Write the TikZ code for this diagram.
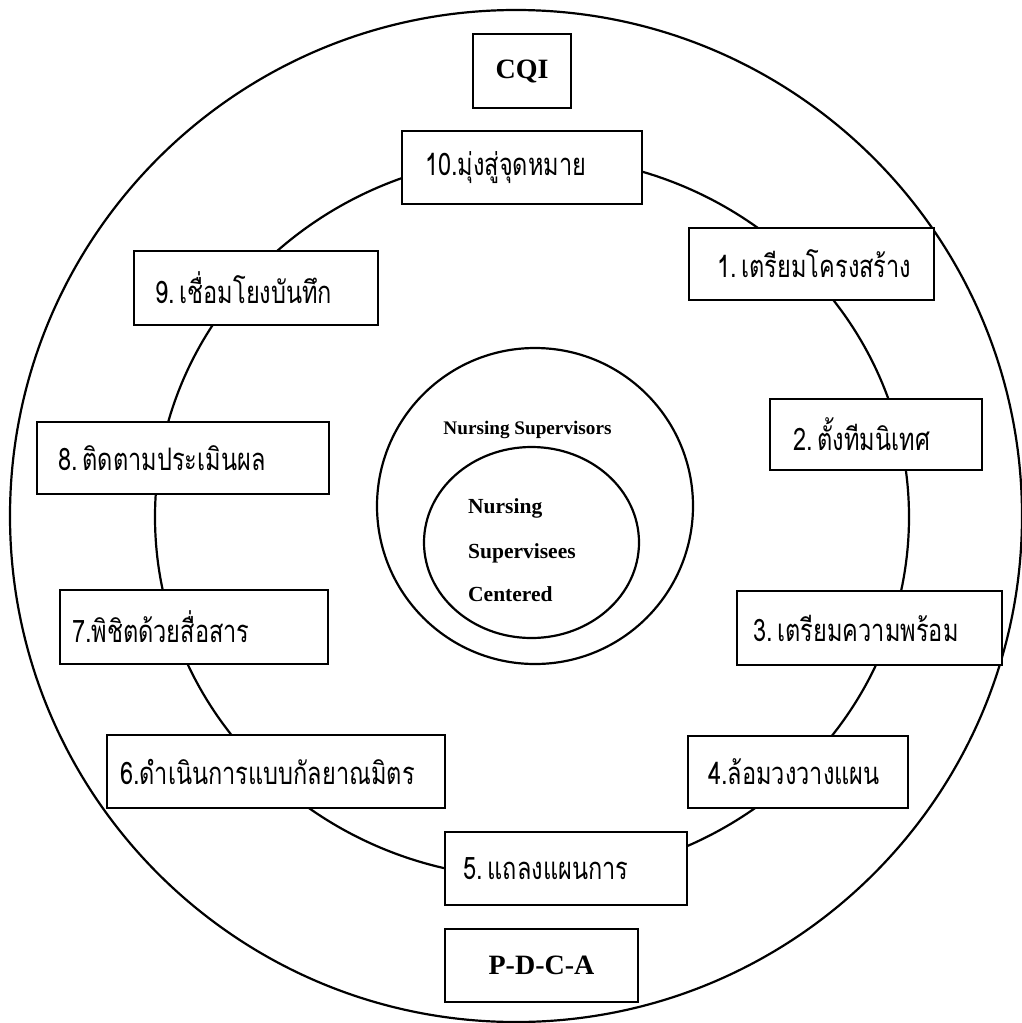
\documentclass[tikz,border=0pt]{standalone}
\usepackage{fontspec}
\usetikzlibrary{shapes.geometric}
\setmainfont{Liberation Serif}
\newfontfamily\thai[Script=Thai,FakeStretch=0.76]{Loma}
\newcommand\gap{\hspace{5pt}}
\begin{document}
\begin{tikzpicture}[x=1pt,y=-1pt,
  ring/.style={draw,line width=2.2pt},
  box/.style={draw,line width=2.4pt,fill=white,inner ysep=0pt,minimum height=73pt,anchor=center},
  tbox/.style={box,font=\thai\fontsize{31}{34}\selectfont},
  lbox/.style={box,font=\bfseries\fontsize{28}{32}\selectfont,inner xsep=0pt},
  ctext/.style={font=\bfseries\fontsize{21.5}{24}\selectfont,inner sep=0pt}]
\useasboundingbox (0,0) rectangle (1021,1023);
% circles
\node[ring,circle,minimum size=1012pt,inner sep=0pt] (outer) at (516,516) {};
\draw[ring] (532,517) ellipse [x radius=377pt, y radius=361pt];
\node[ring,circle,minimum size=316pt,inner sep=0pt] (sup) at (535,506) {};
\node[ring,ellipse,minimum width=215pt,minimum height=191pt,inner sep=0pt] (svee) at (531.5,542.5) {};
% center texts
\node[ctext,font=\bfseries\fontsize{19.2}{22}\selectfont,anchor=base] (t0) at (527.5,434) {Nursing Supervisors};
\node[ctext,anchor=base west] (t1) at (468,513) {Nursing};
\node[ctext,anchor=base west] (t2) at (468,558) {Supervisees};
\node[ctext,anchor=base west] (t3) at (468,601) {Centered};
% labels
\node[lbox,minimum width=98pt,minimum height=74pt] (cqi) at (522,71) {CQI};
\node[lbox,minimum width=193pt] (pdca) at (541.5,965.5) {P-D-C-A};
% steps
\node[tbox,inner xsep=23pt,minimum height=73pt] (s10) at (522,167.5) {\makebox[194pt][l]{10.มุ่งสู่จุดหมาย}};
\node[tbox,inner xsep=28pt,minimum height=72pt] (s1) at (811.5,264) {\makebox[189pt][l]{1.\gap เตรียมโครงสร้าง}};
\node[tbox,inner xsep=23pt,minimum height=71pt] (s2) at (876,434.5) {\makebox[166pt][l]{2.\gap ตั้งทีมนิเทศ}};
\node[tbox,inner xsep=16pt,minimum height=74pt] (s3) at (869.5,628) {\makebox[233pt][l]{3.\gap เตรียมความพร้อม}};
\node[tbox,inner xsep=20pt,minimum height=72pt] (s4) at (798,772) {\makebox[180pt][l]{4.ล้อมวงวางแผน}};
\node[tbox,inner xsep=18pt,minimum height=73pt] (s5) at (566,868.5) {\makebox[206pt][l]{5.\gap แถลงแผนการ}};
\node[tbox,inner xsep=13pt,minimum height=73pt] (s6) at (276,771.5) {\makebox[312pt][l]{6.ดำเนินการแบบกัลยาณมิตร}};
\node[tbox,inner xsep=12pt,minimum height=74pt] (s7) at (194,627) {\makebox[244pt][l]{7.พิชิตด้วยสื่อสาร}};
\node[tbox,inner xsep=21pt,minimum height=72pt] (s8) at (183,458) {\makebox[250pt][l]{8.\gap ติดตามประเมินผล}};
\node[tbox,inner xsep=21pt,minimum height=74pt] (s9) at (256,288) {\makebox[202pt][l]{9.\gap เชื่อมโยงบันทึก}};
\end{tikzpicture}
\end{document}
